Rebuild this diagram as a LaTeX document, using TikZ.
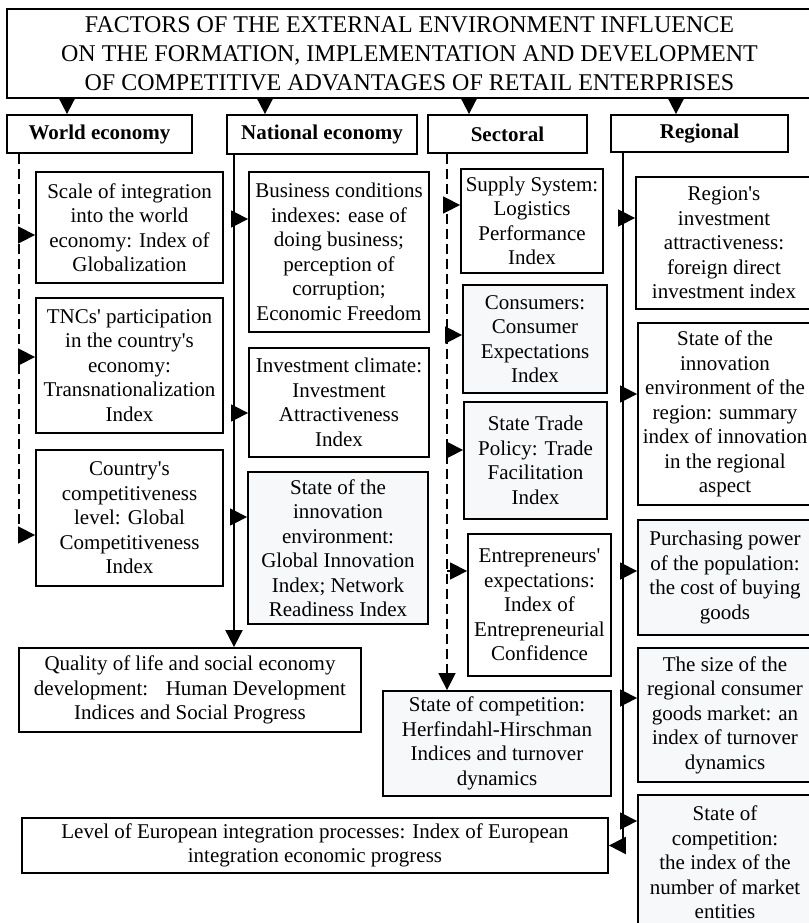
\documentclass[tikz,border=0pt]{standalone}
\usepackage{fontspec}
\setmainfont{Liberation Serif}[Ligatures=TeXOff]
\usetikzlibrary{arrows.meta}
\definecolor{boxfill}{RGB}{247,248,250}

\begin{document}
\begin{tikzpicture}[x=1pt, y=-1pt, >={Triangle[length=17pt,width=17pt]},
  every node/.style={draw, line width=1.8pt, align=center, inner sep=0pt,
    font=\fontsize{21}{24.5}\selectfont},
  head/.style={font=\fontsize{21}{24.5}\selectfont\bfseries},
  bus/.style={line width=2pt}, branch/.style={line width=1.5pt},
  dbus/.style={line width=1.5pt, dash pattern=on 10pt off 5pt},
  shaded/.style={fill=boxfill}]
  \useasboundingbox (0,0) rectangle (808,923);
  % title and the four groups
  \node[minimum width=805, minimum height=89, font=\fontsize{24}{29}\selectfont]
    (title) at (409.5,53.5) {FACTORS OF THE EXTERNAL ENVIRONMENT INFLUENCE\\
    ON THE FORMATION, IMPLEMENTATION AND DEVELOPMENT\\
    OF COMPETITIVE ADVANTAGES OF RETAIL ENTERPRISES};
  \node[head, minimum width=185, minimum height=38] (hw) at (99.5,134) {World economy};
  \node[head, minimum width=190, minimum height=39] (hn) at (322,134.5) {National economy};
  \node[head, minimum width=159, minimum height=38] (hs) at (507.5,134) {Sectoral};
  \node[head, minimum width=177, minimum height=37] (hr) at (699.5,133.5) {Regional};
  \foreach \x/\h in {67/hw, 265/hn, 469/hs, 676/hr}
    \draw[bus,->] (\x,0 |- title.south) -- (\x,0 |- \h.north);

  % world economy
  \node[minimum width=187, minimum height=111] (wb1) at (129.5,227.5)
    {Scale of integration\\into the world\\economy: Index of\\Globalization};
  \node[minimum width=187, minimum height=135] (wb2) at (129.5,365.5)
    {TNCs' participation\\in the country's\\economy:\\Transnationalization\\Index};
  \node[minimum width=187, minimum height=136] (wb3) at (129.5,518)
    {Country's\\competitiveness\\level: Global\\Competitiveness\\Index};
  % national economy
  \node[minimum width=180, minimum height=160] (nb1) at (339,252)
    {Business conditions\\indexes: ease of\\doing business;\\perception of\\corruption;\\Economic Freedom};
  \node[minimum width=180, minimum height=109] (nb2) at (339,402.5)
    {Investment climate:\\Investment\\Attractiveness\\Index};
  \node[shaded, minimum width=180, minimum height=152] (nb3) at (338,548)
    {State of the\\innovation\\environment:\\Global Innovation\\Index; Network\\Readiness Index};
  \node[minimum width=342, minimum height=84] (qual) at (190,690)
    {Quality of life and social economy\\development: \ \ Human Development\\Indices and Social Progress};
  % sectoral
  \node[minimum width=142, minimum height=104] (sb1) at (532,221)
    {Supply System:\\Logistics\\Performance\\Index};
  \node[shaded, minimum width=144, minimum height=108] (sb2) at (535,339)
    {Consumers:\\Consumer\\Expectations\\Index};
  \node[shaded, minimum width=143, minimum height=117] (sb3) at (535.5,460.5)
    {State Trade\\Policy: Trade\\Facilitation\\Index};
  \node[minimum width=143, minimum height=142] (sb4) at (539.5,605)
    {Entrepreneurs'\\expectations:\\Index of\\Entrepreneurial\\Confidence};
  \node[shaded, minimum width=228, minimum height=105] (scomp) at (497,743.5)
    {State of competition:\\Herfindahl-Hirschman\\Indices and turnover\\dynamics};
  % regional
  \node[minimum width=176, minimum height=132] (rb1) at (724,243)
    {Region's\\investment\\attractiveness:\\foreign direct\\investment index};
  \node[minimum width=174, minimum height=182] (rb2) at (725,414)
    {State of the\\innovation\\environment of the\\region: summary\\index of innovation\\in the regional\\aspect};
  \node[shaded, minimum width=174, minimum height=115] (rb3) at (725,577.5)
    {Purchasing power\\of the population:\\the cost of buying\\goods};
  \node[shaded, minimum width=174, minimum height=134] (rb4) at (725,715)
    {The size of the\\regional consumer\\goods market: an\\index of turnover\\dynamics};
  \node[shaded, minimum width=174, minimum height=135] (rb5) at (725,862.5)
    {State of\\competition:\\the index of the\\number of market\\entities};
  \node[minimum width=586, minimum height=55] (euro) at (315,845.5)
    {Level of European integration processes: Index of European\\integration economic progress};

  % world: dashed bus
  \foreach \y/\b [count=\i] in {235/wb1, 357/wb2, 535/wb3} {
    \coordinate (w\i) at (19,\y);
    \draw[branch,->] (w\i) -- (w\i -| \b.west);
  }
  \draw[dbus] (hw.south -| 19,0) -- (w3);
  % national: solid bus down to quality of life
  \foreach \y/\b [count=\i] in {219/nb1, 413/nb2, 517/nb3} {
    \coordinate (n\i) at (234,\y);
    \draw[branch,->] (n\i) -- (n\i -| \b.west);
  }
  \draw[bus,->] (hn.south -| 234,0) -- (qual.north -| 234,0);
  % sectoral: dashed bus down to competition
  \foreach \y/\b [count=\i] in {205/sb1, 335/sb2, 450/sb3, 571/sb4} {
    \coordinate (s\i) at (447,\y);
    \draw[branch,->] (s\i) -- (s\i -| \b.west);
  }
  \draw[dbus,->] (hs.south -| 447,0) -- (scomp.north -| 447,0);
  % regional: solid bus, ends in european integration
  \foreach \y/\b [count=\i] in {218/rb1, 394/rb2, 571/rb3, 698/rb4, 821/rb5} {
    \coordinate (r\i) at (623,\y);
    \draw[branch,->] (r\i) -- (r\i -| \b.west);
  }
  \draw[bus,->] (hr.south -| 623,0) |- (euro.east);
\end{tikzpicture}
\end{document}
